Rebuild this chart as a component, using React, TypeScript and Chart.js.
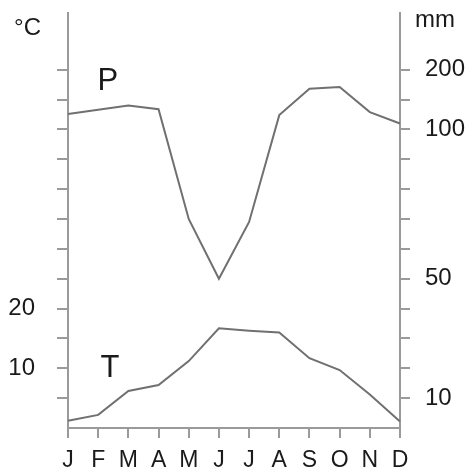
import { useEffect, useRef } from 'react';
import { Chart, registerables } from 'chart.js';

Chart.register(...registerables);

// ---- data ----
const MONTHS = ['J', 'F', 'M', 'A', 'M', 'J', 'J', 'A', 'S', 'O', 'N', 'D'];
const TEMP_C = [1.2, 2.2, 6.2, 7.2, 11.2, 16.7, 16.3, 16.0, 11.7, 9.7, 5.6, 1.1];
const PRECIP_MM = [126, 133, 140, 134, 70, 50, 69, 124, 168, 171, 129, 110];
const AXIS_TICKS = [5, 10, 15, 20, 25, 30, 35, 40, 45, 50, 55, 60];
const TEMP_LABELS = [10, 20];
const PRECIP_LABELS_MM = [10, 50, 100, 200];

// Walter–Lieth style precipitation scale: 2 mm per °C up to 100 mm, compressed above
const mmToAxis = (mm: number) => (mm <= 100 ? mm / 2 : 50 + (mm - 100) / 10);

const FONT = '"Liberation Sans", Arial, Helvetica, sans-serif';
const AXIS = '#9a9a9a';
const LINE = '#707070';
const TEXT = '#1a1a1a';

const textPlugin = {
  id: 'climateText',
  afterDraw(chart: any) {
    const { ctx, chartArea, scales } = chart;
    ctx.save();
    ctx.fillStyle = TEXT;
    ctx.font = `24px ${FONT}`;
    ctx.textBaseline = 'alphabetic';
    ctx.textAlign = 'right';
    ctx.fillText('°C', chartArea.left - 27, chartArea.top + 22);
    ctx.textAlign = 'left';
    ctx.fillText('mm', chartArea.right + 15, chartArea.top + 14);
    ctx.font = `31px ${FONT}`;
    ctx.textAlign = 'center';
    ctx.textBaseline = 'middle';
    ctx.fillText('P', scales.x.getPixelForValue(1.32), scales.y.getPixelForValue(58));
    ctx.fillText('T', scales.x.getPixelForValue(1.39), scales.y.getPixelForValue(9.9));
    ctx.restore();
  },
};

const noPad = (s: any) => {
  s.paddingTop = 0;
  s.paddingBottom = 0;
  s.paddingLeft = 0;
  s.paddingRight = 0;
};

export default function App() {
  const ref = useRef<HTMLCanvasElement>(null);

  useEffect(() => {
    const gridOpts = (len: number) => ({
      drawOnChartArea: false,
      drawTicks: true,
      tickLength: len,
      color: AXIS,
      lineWidth: 2,
    });
    const chart = new Chart(ref.current as HTMLCanvasElement, {
      type: 'line',
      data: {
        labels: MONTHS,
        datasets: [
          {
            label: 'P',
            data: PRECIP_MM.map(mmToAxis),
            borderColor: LINE,
            borderWidth: 2,
            pointRadius: 0,
            tension: 0,
            yAxisID: 'y2',
          },
          {
            label: 'T',
            data: TEMP_C,
            borderColor: LINE,
            borderWidth: 2,
            pointRadius: 0,
            tension: 0,
            yAxisID: 'y',
          },
        ],
      },
      options: {
        responsive: false,
        maintainAspectRatio: false,
        animation: false,
        layout: { padding: { top: 13, left: 0, right: 0, bottom: 0 } },
        plugins: { legend: { display: false }, tooltip: { enabled: false } },
        scales: {
          x: {
            type: 'category',
            offset: false,
            grid: gridOpts(10),
            border: { display: true, color: AXIS, width: 2 },
            ticks: {
              autoSkip: false,
              maxRotation: 0,
              color: TEXT,
              padding: 9,
              font: { family: FONT, size: 23 },
            },
            afterFit: (s: any) => {
              s.height = 46;
              noPad(s);
            },
          },
          y: {
            type: 'linear',
            position: 'left',
            min: 0,
            max: 69.5,
            grid: gridOpts(11),
            border: { display: true, color: AXIS, width: 2 },
            afterBuildTicks: (s: any) => {
              s.ticks = AXIS_TICKS.map((v) => ({ value: v }));
            },
            ticks: {
              color: TEXT,
              padding: 22,
              font: { family: FONT, size: 24 },
              callback: (v: any) => (TEMP_LABELS.includes(Number(v)) ? String(v) : ''),
            },
            afterFit: (s: any) => {
              s.width = 68;
              noPad(s);
            },
          },
          y2: {
            type: 'linear',
            position: 'right',
            min: 0,
            max: 69.5,
            grid: gridOpts(10),
            border: { display: true, color: AXIS, width: 2 },
            afterBuildTicks: (s: any) => {
              s.ticks = AXIS_TICKS.map((v) => ({ value: v }));
            },
            ticks: {
              color: TEXT,
              padding: 15,
              font: { family: FONT, size: 24 },
              callback: (v: any) => {
                const mm = PRECIP_LABELS_MM.find((m) => mmToAxis(m) === Number(v));
                return mm === undefined ? '' : String(mm);
              },
            },
            afterFit: (s: any) => {
              s.width = 73;
              noPad(s);
            },
          },
        },
      },
      plugins: [textPlugin],
    } as any);
    return () => chart.destroy();
  }, []);

  return (
    <div style={{ position: 'fixed', left: 0, top: 0, width: 473, height: 474, background: '#fff' }}>
      <canvas ref={ref} width={473} height={474} style={{ display: 'block', width: 473, height: 474 }} />
    </div>
  );
}
